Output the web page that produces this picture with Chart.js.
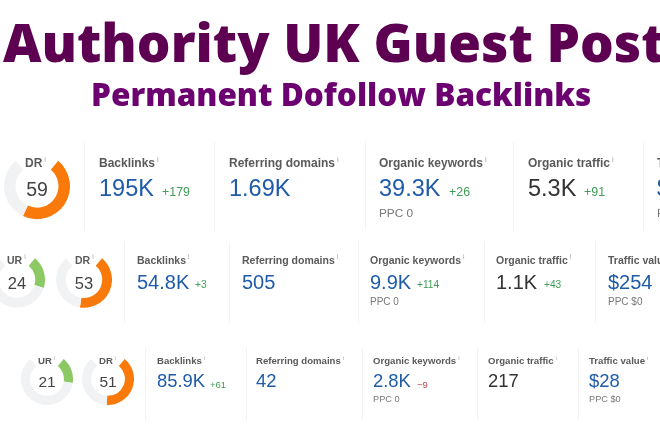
<!DOCTYPE html>
<html>
<head>
<meta charset="utf-8">
<script src="https://cdn.jsdelivr.net/npm/chart.js@4"></script>
<style>
  html, body { margin: 0; padding: 0; background: #fff; }
  #page { position: relative; width: 660px; height: 440px; overflow: hidden; font-family: "Liberation Sans", Arial, sans-serif; filter: blur(0.4px); }
  #page div, #page canvas { position: absolute; }
  .txt { white-space: nowrap; line-height: 1; }
  .head { font-family: "Open Sans", sans-serif; font-weight: 800; white-space: nowrap; line-height: 1; }
  .lab { font-weight: bold; color: #5a5a5a; }
  .lab sup { font-weight: normal; color: #aaa; font-size: 65%; margin-left: 2px; line-height: 0; }
  .line { background: #f3f3f3; width: 1px; }
</style>
</head>
<body>
<div id="page"></div>
<script>
const titleText = "Authority UK Guest Post";
const subtitleText = "Permanent Dofollow Backlinks";

// gauges
const gaugeRow = [0, 1, 1, 2, 2];
const gaugeNames = ["DR", "UR", "DR", "UR", "DR"];
const gaugeValues = [59, 24, 53, 21, 51];

// metrics table
const metricNames = ["Backlinks", "Referring domains", "Organic keywords", "Organic traffic", "Traffic value"];
const row1Values = ["195K", "1.69K", "39.3K", "5.3K", "$"];
const row2Values = ["54.8K", "505", "9.9K", "1.1K", "$254"];
const row3Values = ["85.9K", "42", "2.8K", "217", "$28"];
const row1Deltas = ["+179", "", "+26", "+91", ""];
const row2Deltas = ["+3", "", "+114", "+43", ""];
const row3Deltas = ["+61", "", "\u22129", "", ""];
const ppcNotes = ["", "", "PPC 0", "", "PPC $0"];

// layout (pixels), separate from the data
const gaugeX = [37, 17, 84, 47, 108];
const gaugeY = [190, 283, 283, 382, 382];
const gaugeR = [33, 28, 28, 26, 26];
const gaugeLabelX = [25, 7, 75, 38, 99];
const columnX = [
  [99, 229, 379, 528, 657],
  [137, 242, 370, 496, 608],
  [157, 256, 373, 488, 589]
];
const deltaX = [
  [162, 0, 449, 584, 0],
  [195, 0, 417, 544, 0],
  [210, 0, 417, 0, 0]
];
const dividerX = [
  [84, 214, 365, 513, 643],
  [124, 229, 358, 484, 595],
  [145, 246, 362, 477, 578]
];
const dividerTop = [142, 242, 347];
const dividerBottom = [230, 323, 420];
const labelMidY = [163, 260, 361];
const valueBase = [197, 289, 388];
const ppcBase = [218, 306, 403];
const labelSize = [12, 10.5, 9.6];
const valueSize = [23.5, 20, 18.4];
const deltaSize = [12.4, 10.2, 9.5];
const ppcSize = [11.8, 10, 9.2];
const gaugeTextSize = [19.5, 16.5, 15.5];

const page = document.getElementById("page");

function addText(cls, html, x, y, size, color) {
  let d = document.createElement("div");
  d.className = cls;
  d.innerHTML = html;
  d.style.left = x + "px";
  d.style.top = y + "px";
  d.style.fontSize = size + "px";
  if (color) d.style.color = color;
  page.appendChild(d);
  return d;
}

// baseline sits about 0.86em under the top of a line-height 1 box in Liberation Sans
function addBase(cls, html, x, base, size, color) {
  return addText(cls, html, x, base - size * 0.86, size, color);
}

addText("head", titleText, 3, 15, 53, "#5d0052");
addText("head", subtitleText, 91, 78, 31.5, "#6c0070");

function addGauge(i) {
  let r = gaugeR[i];
  let c = document.createElement("canvas");
  c.width = r * 2;
  c.height = r * 2;
  c.style.left = (gaugeX[i] - r) + "px";
  c.style.top = (gaugeY[i] - r) + "px";
  page.appendChild(c);

  new Chart(c.getContext("2d"), {
    type: "doughnut",
    data: {
      labels: [gaugeNames[i], ""],
      datasets: [{
        data: [gaugeValues[i], 100 - gaugeValues[i]],
        backgroundColor: [gaugeNames[i] === "DR" ? "#f97a0a" : "#8cc965", "#f1f2f4"],
        borderWidth: 0
      }]
    },
    options: {
      responsive: false,
      animation: false,
      rotation: 40,
      circumference: 280,
      cutout: "65%",
      plugins: { legend: { display: false }, tooltip: { enabled: false } }
    }
  });

  let row = gaugeRow[i];
  addText("txt lab", gaugeNames[i] + "<sup>i</sup>", gaugeLabelX[i], labelMidY[row] - labelSize[row] / 2, labelSize[row]);
  let size = gaugeTextSize[row];
  let v = addText("txt", String(gaugeValues[i]), gaugeX[i] - 20, gaugeY[i] - size / 2, size, "#444");
  v.style.width = "40px";
  v.style.textAlign = "center";
}

gaugeValues.forEach((v, i) => addGauge(i));

function addRow(row, values, deltas) {
  dividerX[row].forEach(x => {
    let d = document.createElement("div");
    d.className = "line";
    d.style.left = x + "px";
    d.style.top = dividerTop[row] + "px";
    d.style.height = (dividerBottom[row] - dividerTop[row]) + "px";
    page.appendChild(d);
  });
  metricNames.forEach((name, i) => {
    let x = columnX[row][i];
    addText("txt lab", name + "<sup>i</sup>", x, labelMidY[row] - labelSize[row] / 2, labelSize[row]);
    // organic traffic is the only dark value in the reference
    addBase("txt", values[i], x, valueBase[row], valueSize[row], i === 3 ? "#333" : "#1f5ba8");
    if (deltas[i]) {
      let col = deltas[i][0] === "+" ? "#3f9d55" : "#c0484f";
      addBase("txt", deltas[i], deltaX[row][i], valueBase[row], deltaSize[row], col);
    }
    if (ppcNotes[i]) addBase("txt", ppcNotes[i], x, ppcBase[row], ppcSize[row], "#777");
  });
}

addRow(0, row1Values, row1Deltas);
addRow(1, row2Values, row2Deltas);
addRow(2, row3Values, row3Deltas);
</script>
</body>
</html>
